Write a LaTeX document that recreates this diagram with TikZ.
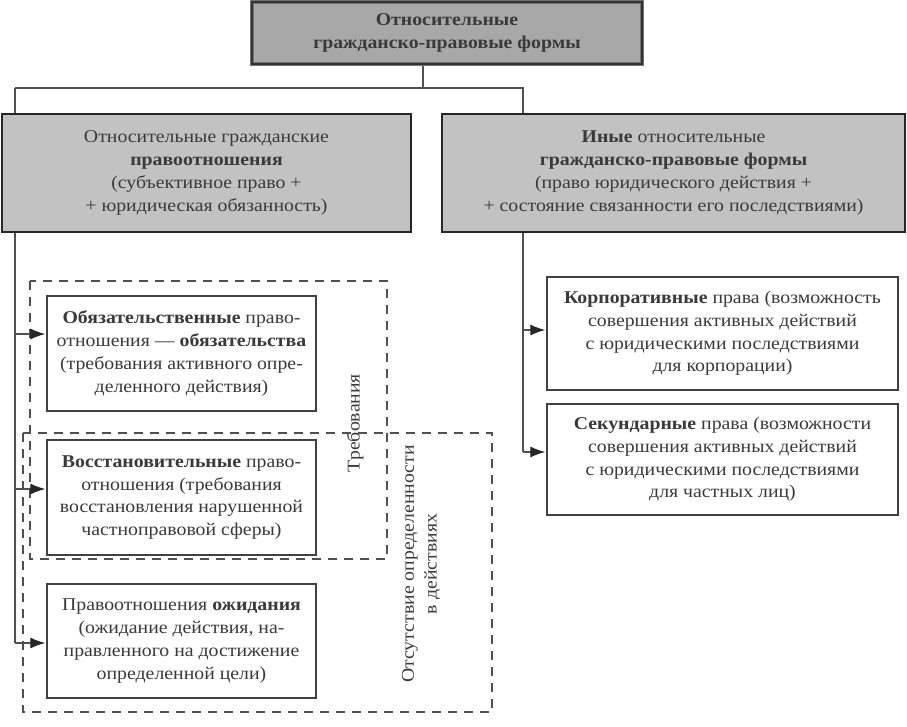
\documentclass[tikz,border=0pt]{standalone}
\usepackage{fontspec}
\setmainfont{Liberation Serif}[FakeStretch=1.1]
\usetikzlibrary{arrows.meta}
\definecolor{txt}{HTML}{3A3A3A}
\definecolor{ln}{HTML}{505050}
\definecolor{gA}{HTML}{A8A8A8}
\definecolor{gB}{HTML}{C2C2C2}
\newcommand{\fs}{\fontsize{18}{22.7}\selectfont}
\tikzset{
  gbox/.style={draw=black!85, line width=2.2pt, rectangle, align=center, text=txt, inner sep=0pt, font=\fs},
  wbox/.style={draw=black!75, line width=1.3pt, fill=white, rectangle, align=center, text=txt, inner sep=0pt, font=\fs},
  conn/.style={draw=ln, line width=1.2pt},
  arr/.style={conn, -{Latex[length=15pt,width=11pt,color=black!85]}, shorten >=1pt},
  dbox/.style={draw=ln, line width=1.2pt, dash pattern=on 9pt off 7pt},
  lbl/.style={text=txt, align=center, rotate=90, inner sep=0pt, font=\fs},
}
\begin{document}
\begin{tikzpicture}[x=1pt,y=-1pt]
\useasboundingbox (0,0) rectangle (907,726);
% trunk lines (behind boxes)
\coordinate (tj) at (423,88);
\coordinate (lj) at (15,88);
\coordinate (rj) at (523,88);
\coordinate (l1) at (15,334);
\coordinate (l2) at (15,489);
\coordinate (l3) at (15,643);
\coordinate (r1) at (523,330);
\coordinate (r2) at (523,452);
\draw[conn] (lj) -- (rj) -- (r2);
\draw[conn] (lj) -- (l3);
% dashed groups
\draw[dbox] (30,281) rectangle (387,559);
\draw[dbox] (23,433) rectangle (492,712);
% boxes
\node[gbox, fill=gA, draw=black!55, line width=4pt, minimum width=390pt, minimum height=62pt, font=\fs\bfseries] (top) at (447,33)
  {Относительные\\ гражданско-правовые формы};
\draw[black!80, line width=1.3pt] ([shift={(2pt,2pt)}]top.south west) rectangle ([shift={(-2pt,-2pt)}]top.north east);
\draw[conn] (top.south -| tj) -- (tj);
\node[gbox, fill=gB, minimum width=409pt, minimum height=118pt] (lm) at (206.5,173)
  {Относительные гражданские\\ \textbf{правоотношения}\\ (субъективное право +\\ + юридическая обязанность)};
\node[gbox, fill=gB, minimum width=463pt, minimum height=118pt] (rm) at (673.5,173)
  {\textbf{Иные} относительные\\ \textbf{гражданско-правовые формы}\\ (право юридического действия +\\ + состояние связанности его последствиями)};
\node[wbox, minimum width=269pt, minimum height=115pt] (obl) at (181.5,353.5)
  {\textbf{Обязательственные} право-\\ отношения — \textbf{обязательства}\\ (требования активного опре-\\ деленного действия)};
\node[wbox, minimum width=269pt, minimum height=115pt] (vos) at (181.5,497.5)
  {\textbf{Восстановительные} право-\\ отношения (требования\\ восстановления нарушенной\\ частноправовой сферы)};
\node[wbox, minimum width=269pt, minimum height=114pt] (ozh) at (181.5,641)
  {Правоотношения \textbf{ожидания}\\ (ожидание действия, на-\\ правленного на достижение\\ определенной цели)};
\node[wbox, minimum width=351pt, minimum height=113pt] (korp) at (722.5,333.5)
  {\textbf{Корпоративные} права (возможность\\ совершения активных действий\\ с юридическими последствиями\\ для корпорации)};
\node[wbox, minimum width=351pt, minimum height=111pt] (sek) at (722.5,459.5)
  {\textbf{Секундарные} права (возможности\\ совершения активных действий\\ с юридическими последствиями\\ для частных лиц)};
% labels
\node[lbl] (treb) at (355,423) {Требования};
\node[lbl] (otsut) at (421,564) {Отсутствие определенности\\ в действиях};
% arrows
\draw[arr] (l1) -- (l1 -| obl.west);
\draw[arr] (l2) -- (l2 -| vos.west);
\draw[arr] (l3) -- (l3 -| ozh.west);
\draw[arr] (r1) -- (r1 -| korp.west);
\draw[arr] (r2) -- (r2 -| sek.west);
\end{tikzpicture}
\end{document}
